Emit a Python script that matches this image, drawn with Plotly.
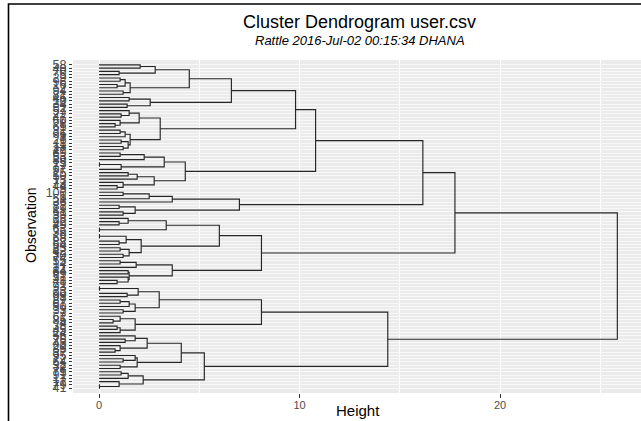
import plotly.graph_objects as go

# Leaf labels, top to bottom
obs_labels = [58, 40, 70, 5, 29, 96, 16, 2, 94, 81,
              46, 10, 34, 52, 57, 22, 47, 60, 8, 65,
              31, 66, 3, 26, 11, 18, 27, 69, 53, 89,
              15, 77, 97, 25, 50, 13, 73, 44, 9, 100,
              1, 59, 36, 82, 19, 61, 39, 28, 92, 49,
              63, 35, 6, 68, 88, 54, 83, 42, 30, 74,
              55, 14, 21, 84, 99, 51, 48, 71, 93, 23,
              90, 98, 87, 67, 80, 33, 7, 62, 85, 4,
              38, 45, 24, 56, 76, 43, 20, 86, 37, 95,
              72, 64, 32, 78, 75, 91, 17, 12, 79, 41]

# Sub-clusters: (merge height, left, right); ints are leaf positions
P1a = (2.8, (2.05, 0, 1), (1.0, 2, 3))
P1b = (1.55, (1.3, (1.05, 4, 5), (0.9, 6, 7)), (1.2, 8, 9))
P2 = (2.55, (1.5, 10, 11), (1.4, 12, 13))
Q1 = (2.0, (1.5, 14, (1.1, 15, 16)), (1.05, 17, (0.8, 18, 19)))
Q2 = (1.55, (1.3, (1.05, 20, 21), 22), (1.45, (1.1, 23, 24), (1.2, 25, 26)))
A1a_ii_top = (3.25, (2.25, (1.05, 27, 28), 29), (1.1, (0.02, 30, 31), 32))
A1a_ii_bot = (2.75, (1.9, (1.45, 33, 34), 35), (1.2, 36, (0.9, 37, 38)))
A1b_top = (3.65, (2.5, (1.2, 39, 40), 41), 42)
A1b_bot = (1.8, (1.0, 43, 44), (1.2, 45, 46))
A2a_top = (3.35, (1.45, 47, (1.0, 48, 49)), (0.02, 50, 51))
A2a_bot = (2.1, (1.35, (0.02, 52, 53), (1.0, 54, 55)), (1.5, (1.05, 56, 57), (1.2, 58, 59)))
A2b_top = (1.85, (1.05, 60, 61), 62)
A2b_bot = (1.5, (1.45, 63, 64), (1.45, 65, (0.9, 66, 67)))
B1a_top = (1.95, (0.02, 68, 69), (1.4, 70, 71))
B1a_bot = (1.8, (1.5, (1.05, 72, 73), 74), (1.2, 75, 76))
B1b = (1.8, (1.05, 77, (0.7, 78, 79)), (1.05, (0.9, 80, 81), 82))
B2a_top = (2.4, (1.8, 83, (1.3, 84, 85)), (1.05, 86, (0.8, 87, 88)))
B2a_bot = (1.9, (1.8, 89, (1.2, 90, 91)), (1.05, 92, 93))
B2b = (2.2, (1.45, (1.1, 94, 95), 96), (1.0, 97, (0.02, 98, 99)))

cluster_A1 = (16.15, (10.8, (9.8, (6.6, (4.5, P1a, P1b), P2), (3.05, Q1, Q2)),
                      (4.3, A1a_ii_top, A1a_ii_bot)),
              (7.0, A1b_top, A1b_bot))
cluster_A2 = (8.1, (6.0, A2a_top, A2a_bot), (3.65, A2b_top, A2b_bot))
cluster_B = (14.4, (8.1, (3.0, B1a_top, B1a_bot), B1b),
             (5.25, (4.1, B2a_top, B2a_bot), B2b))
tree = (25.85, (17.75, cluster_A1, cluster_A2), cluster_B)

xs, ys = [], []


def walk(node):
    if isinstance(node, int):
        return float(node), 0.0
    h, a, b = node
    ya, ha = walk(a)
    yb, hb = walk(b)
    xs.extend([ha, h, h, hb, None])
    ys.extend([ya, ya, yb, yb, None])
    return (ya + yb) / 2.0, h


walk(tree)

n = len(obs_labels)
FONT = "Liberation Sans, Arial, sans-serif"

fig = go.Figure()
fig.add_trace(go.Scatter(x=xs, y=ys, mode="lines",
                         line=dict(color="#262626", width=1.15),
                         hoverinfo="skip", showlegend=False))

# plot area pixel geometry
L, T, B_ = 73, 60, 28
W, H = 641, 421
pw, ph = W - L, H - T - B_


def px(x):
    return (x - L) / pw


def py(y):
    return (H - B_ - y) / ph


def note(text, x, y, size, angle=0):
    return dict(text=text, x=px(x), y=py(y), xref="paper", yref="paper",
                xanchor="center", yanchor="middle", showarrow=False,
                textangle=angle, font=dict(size=size, color="black", family=FONT))


fig.update_layout(
    template="none",
    width=W, height=H,
    margin=dict(l=L, r=0, t=T, b=B_, autoexpand=False),
    paper_bgcolor="white",
    plot_bgcolor="#EBEBEB",
    font=dict(family=FONT),
    xaxis=dict(range=[-1.3, 27.03], tickvals=[0, 10, 20], ticktext=["0", "10", "20"],
               showgrid=True, gridcolor="white", gridwidth=1.1, zeroline=False,
               ticks="outside", ticklen=4, tickcolor="#333333", tickwidth=1,
               ticklabelstandoff=-2,
               tickfont=dict(size=11, color="#4D4D4D", family=FONT),
               minor=dict(tickvals=[5, 15, 25], showgrid=True, gridcolor="white",
                          gridwidth=0.6, ticks=""),
               showline=False, automargin=False),
    yaxis=dict(range=[n + 0.5, -1.5], tickvals=list(range(n)),
               ticktext=[str(v) for v in obs_labels],
               showgrid=True, gridcolor="#F8F8F8", gridwidth=0.8, zeroline=False,
               ticks="outside", ticklen=3, tickcolor="#333333", tickwidth=1,
               tickfont=dict(size=12.5, color="#4D4D4D", family=FONT),
               showline=False, automargin=False),
    annotations=[
        note("Cluster Dendrogram user.csv", 359, 22, 18),
        note("<i>Rattle 2016-Jul-02 00:15:34 DHANA</i>", 360, 40, 13),
        note("Height", 358, 411, 15),
        note("Observation", 31, 226, 14, angle=-90),
    ],
    shapes=[
        dict(type="path", xref="paper", yref="paper",
             path=f"M {px(8.5)},{py(421)} L {px(8.5)},{py(4)} L {px(641)},{py(4)}",
             line=dict(color="black", width=1.6)),
    ],
)

fig.write_html("out.html",
               config={"displayModeBar": False},
               post_script="document.body.style.margin='0px';"
                           "document.body.style.overflow='hidden';")
